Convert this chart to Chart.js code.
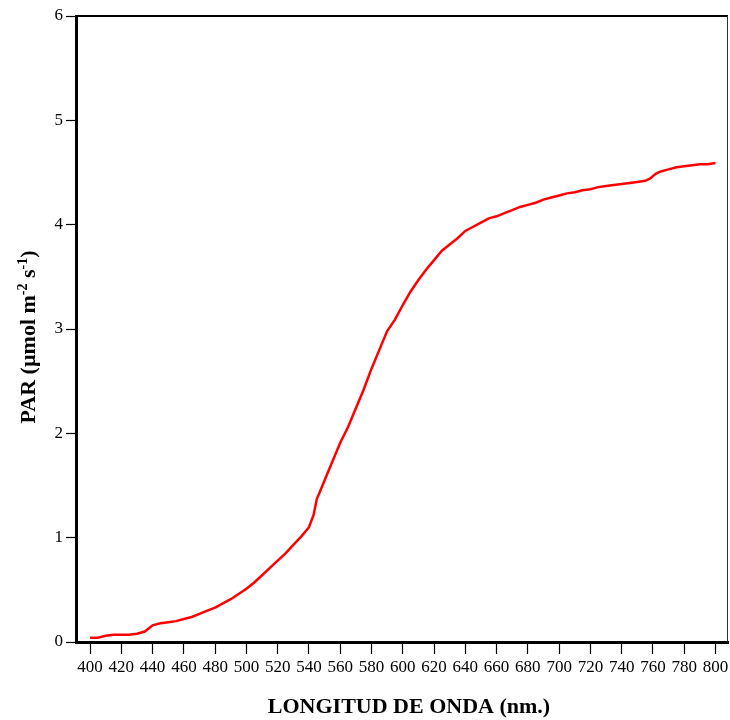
<!DOCTYPE html>
<html>
<head>
<meta charset="utf-8">
<script src="https://cdn.jsdelivr.net/npm/chart.js@4/dist/chart.umd.min.js"></script>
<style>
  html, body { margin: 0; padding: 0; background: #fff; }
  #wrap { width: 730px; height: 720px; }
</style>
</head>
<body>
<div id="wrap"><canvas id="parChart" width="730" height="720"></canvas></div>
<script>
// wavelength (nm) and PAR
const wavelengths = [
  400, 405, 410, 415, 420, 425, 430, 435, 440, 445, 450, 455, 460, 465, 470, 475,
  480, 485, 490, 495, 500, 505, 510, 515, 520, 525, 530, 535, 540, 543, 545, 547,
  550, 555, 560, 565, 570, 575, 580, 585, 590, 595, 600, 605, 610, 615, 620, 625,
  630, 635, 640, 645, 650, 655, 660, 665, 670, 675, 680, 685, 690, 695, 700, 705,
  710, 715, 720, 725, 730, 735, 740, 745, 750, 755, 758, 762, 765, 770, 775, 780,
  785, 790, 795, 800
];
const parValues = [
  0.04, 0.04, 0.06, 0.07, 0.07, 0.07, 0.08, 0.10, 0.16, 0.18, 0.19, 0.20, 0.22, 0.24, 0.27, 0.30,
  0.33, 0.37, 0.41, 0.46, 0.51, 0.57, 0.64, 0.71, 0.78, 0.85, 0.93, 1.01, 1.10, 1.22, 1.37, 1.44,
  1.55, 1.73, 1.91, 2.06, 2.24, 2.42, 2.62, 2.80, 2.98, 3.09, 3.23, 3.36, 3.47, 3.57, 3.66, 3.75,
  3.81, 3.87, 3.94, 3.98, 4.02, 4.06, 4.08, 4.11, 4.14, 4.17, 4.19, 4.21, 4.24, 4.26, 4.28, 4.30,
  4.31, 4.33, 4.34, 4.36, 4.37, 4.38, 4.39, 4.40, 4.41, 4.42, 4.44, 4.49, 4.51, 4.53, 4.55, 4.56,
  4.57, 4.58, 4.58, 4.59
];
const xTicks = [400, 420, 440, 460, 480, 500, 520, 540, 560, 580, 600, 620, 640, 660, 680, 700, 720, 740, 760, 780, 800];
const yTicks = [0, 1, 2, 3, 4, 5, 6];

const xTitle = 'LONGITUD DE ONDA (nm.)';
// y title pieces: [text, superscript?]
const yTitleParts = [['PAR (µmol m', false], ['-2', true], [' s', false], ['-1', true], [')', false]];

const serif = '"Liberation Serif", "DejaVu Serif", serif';

const titlesPlugin = {
  id: 'titles',
  afterDraw(chart) {
    const ctx = chart.ctx;
    const area = chart.chartArea;
    ctx.save();
    // frame top and right
    ctx.strokeStyle = '#000';
    ctx.lineWidth = 2;
    ctx.beginPath();
    ctx.moveTo(area.left, area.top);
    ctx.lineTo(area.right, area.top);
    ctx.stroke();
    ctx.lineWidth = 1;
    ctx.strokeStyle = '#333';
    ctx.beginPath();
    ctx.moveTo(area.right - 0.5, area.top);
    ctx.lineTo(area.right - 0.5, area.bottom);
    ctx.stroke();

    ctx.fillStyle = '#000';
    ctx.textBaseline = 'alphabetic';
    ctx.font = 'bold 22px ' + serif;
    ctx.textAlign = 'center';
    ctx.fillText(xTitle, 409, 713);

    // rotated y title with superscripts
    const big = 'bold 22px ' + serif;
    const small = 'bold 14px ' + serif;
    let total = 0;
    yTitleParts.forEach(([t, sup]) => {
      ctx.font = sup ? small : big;
      total += ctx.measureText(t).width;
    });
    ctx.translate(35, 337);
    ctx.rotate(-Math.PI / 2);
    ctx.textAlign = 'left';
    let x = -total / 2;
    yTitleParts.forEach(([t, sup]) => {
      ctx.font = sup ? small : big;
      ctx.fillText(t, x, sup ? -8 : 0);
      x += ctx.measureText(t).width;
    });
    ctx.restore();
  }
};

new Chart(document.getElementById('parChart'), {
  type: 'line',
  data: {
    datasets: [{
      data: wavelengths.map((w, i) => ({ x: w, y: parValues[i] })),
      borderColor: '#ff0000',
      borderWidth: 2.5,
      pointRadius: 0,
      tension: 0,
      fill: false
    }]
  },
  options: {
    responsive: false,
    animation: false,
    events: [],
    layout: { padding: { top: 16, right: 2, left: 0, bottom: 0 } },
    plugins: {
      legend: { display: false },
      tooltip: { enabled: false }
    },
    scales: {
      x: {
        type: 'linear',
        min: 391,
        max: 808,
        afterBuildTicks: s => { s.ticks = xTicks.map(v => ({ value: v })); },
        afterFit: s => { s.height = 78; s.paddingLeft = 0; s.paddingRight = 0; },
        grid: { drawOnChartArea: false, drawTicks: true, tickLength: 12, tickWidth: 1.2, tickColor: '#000' },
        border: { display: true, width: 3, color: '#000' },
        ticks: { color: '#000', font: { family: serif, size: 17 }, padding: 3, maxRotation: 0, autoSkip: false }
      },
      y: {
        type: 'linear',
        min: 0,
        max: 6,
        afterBuildTicks: s => { s.ticks = yTicks.map(v => ({ value: v })); },
        afterFit: s => { s.width = 76; s.paddingTop = 0; s.paddingBottom = 0; },
        grid: { drawOnChartArea: false, drawTicks: true, tickLength: 10, tickWidth: 1.2, tickColor: '#000' },
        border: { display: true, width: 3, color: '#000' },
        ticks: { color: '#000', font: { family: serif, size: 17 }, padding: 3 }
      }
    }
  },
  plugins: [titlesPlugin]
});
</script>
</body>
</html>
